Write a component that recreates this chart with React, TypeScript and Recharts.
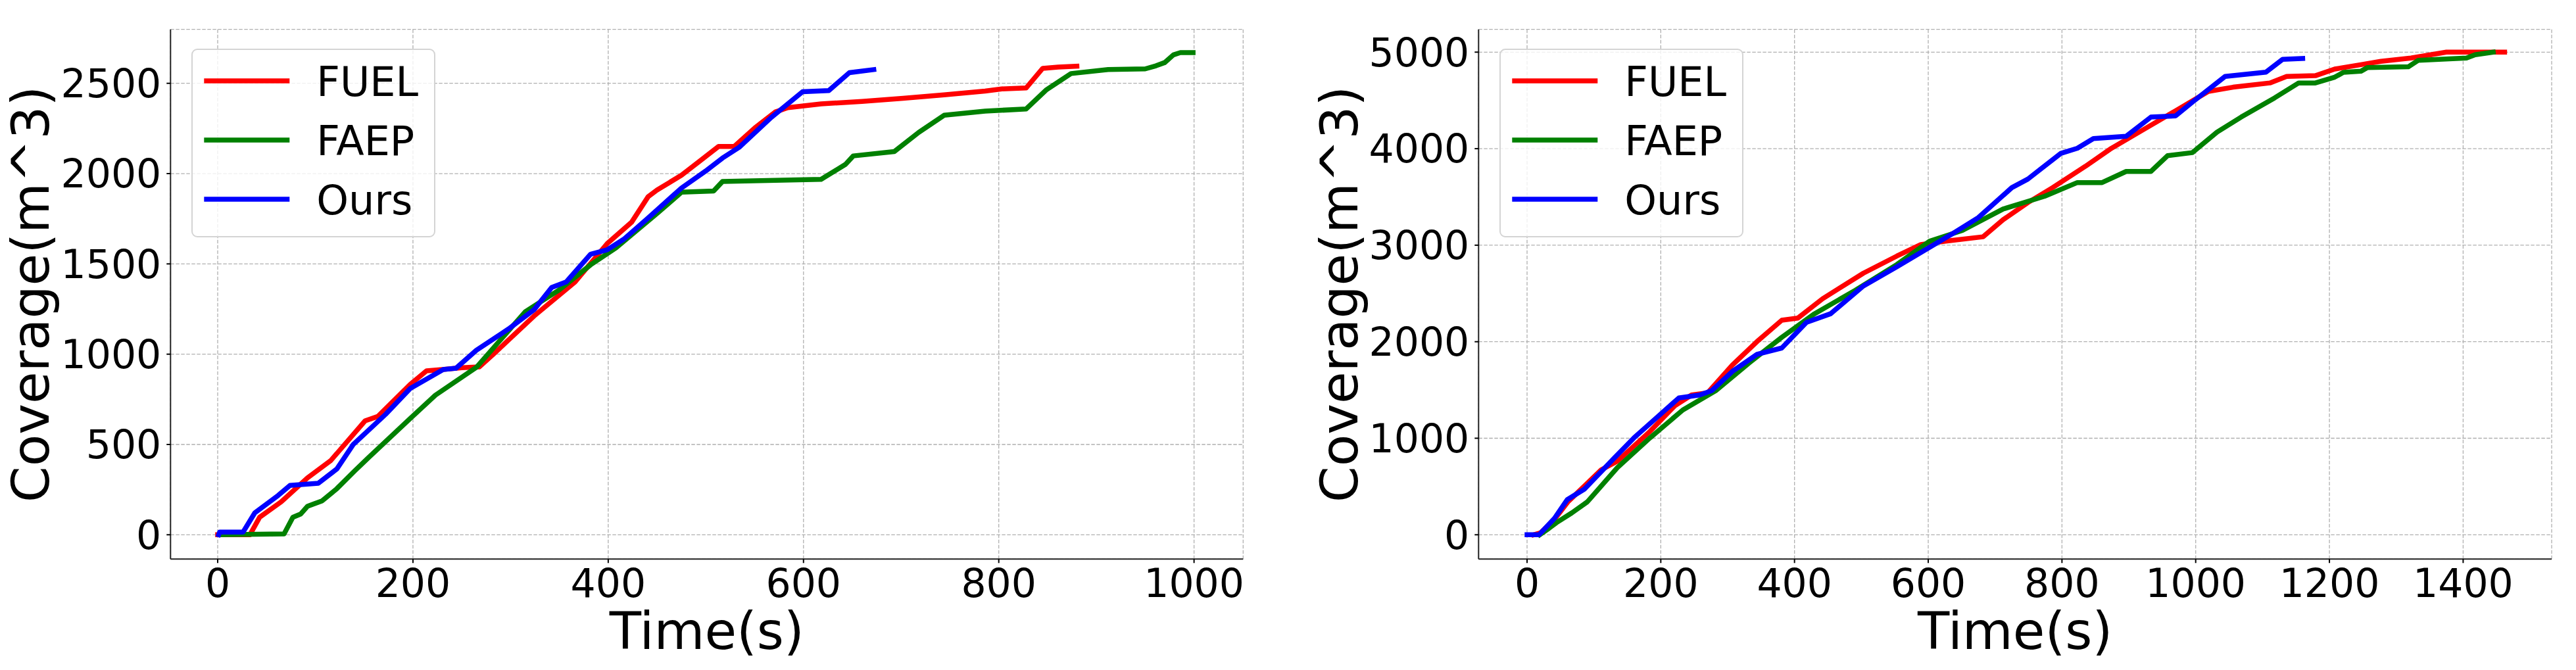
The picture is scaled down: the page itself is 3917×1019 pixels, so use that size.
import { LineChart, Line, XAxis, YAxis, CartesianGrid, Legend } from "recharts";

const FONT = '"DejaVu Sans", sans-serif';

// left panel: (time s, coverage m^3)
const fuelA: [number, number][] = [
  [0, 0], [33, 0], [43, 97], [65, 182], [92, 315], [116, 412], [151, 631], [164, 655],
  [197, 832], [214, 908], [230, 915], [250, 925], [268, 930], [282, 998], [324, 1211],
  [366, 1400], [399, 1613], [424, 1731], [441, 1873], [450, 1909], [475, 1991], [492, 2062],
  [513, 2150], [529, 2150], [550, 2252], [571, 2341], [584, 2365], [618, 2386], [660, 2400],
  [702, 2417], [744, 2436], [786, 2457], [803, 2469], [828, 2474], [845, 2583], [861, 2590],
  [880, 2595],
];
const faepA: [number, number][] = [
  [3, 0], [68, 5], [77, 97], [85, 115], [92, 158], [107, 188], [122, 255], [140, 352],
  [155, 430], [197, 643], [223, 773], [265, 927], [315, 1235], [349, 1353], [382, 1495],
  [408, 1589], [450, 1779], [475, 1897], [508, 1904], [517, 1956], [618, 1968], [643, 2051],
  [651, 2098], [693, 2122], [718, 2228], [744, 2323], [786, 2346], [828, 2358], [849, 2465],
  [874, 2554], [912, 2576], [950, 2580], [961, 2597], [970, 2615], [979, 2658], [986, 2670],
  [999, 2670],
];
const oursA: [number, number][] = [
  [1, 0], [2, 15], [26, 15], [38, 121], [62, 218], [74, 273], [103, 285], [122, 364],
  [139, 501], [172, 667], [197, 809], [231, 915], [244, 922], [265, 1022], [298, 1140],
  [324, 1246], [342, 1369], [357, 1400], [382, 1554], [399, 1578], [416, 1637], [441, 1755],
  [475, 1920], [500, 2015], [517, 2086], [534, 2145], [567, 2311], [599, 2453], [626, 2460],
  [647, 2559], [672, 2576],
];

// right panel
const fuelB: [number, number][] = [
  [10, 0], [20, 20], [40, 150], [61, 340], [111, 673], [135, 762], [184, 1072], [221, 1337],
  [246, 1448], [270, 1470], [307, 1758], [344, 2002], [381, 2223], [405, 2245], [442, 2445],
  [503, 2710], [553, 2887], [589, 3007], [626, 3042], [682, 3087], [712, 3264], [749, 3441],
  [786, 3596], [835, 3817], [872, 3995], [921, 4194], [970, 4393], [1019, 4593], [1056, 4637],
  [1111, 4681], [1136, 4748], [1179, 4756], [1208, 4825], [1247, 4870], [1277, 4905],
  [1322, 4939], [1375, 5000], [1462, 5000],
];
const faepB: [number, number][] = [
  [19, 0], [33, 68], [44, 125], [67, 227], [90, 340], [135, 695], [184, 1005], [233, 1293],
  [282, 1492], [332, 1780], [381, 2046], [430, 2290], [491, 2533], [553, 2799], [602, 3042],
  [651, 3153], [712, 3375], [774, 3507], [823, 3649], [860, 3649], [896, 3764], [933, 3764],
  [958, 3928], [995, 3959], [1032, 4172], [1068, 4327], [1118, 4526], [1154, 4681],
  [1179, 4681], [1208, 4741], [1221, 4791], [1247, 4802], [1257, 4841], [1318, 4848],
  [1333, 4916], [1405, 4939], [1418, 4973], [1445, 5000],
];
const oursB: [number, number][] = [
  [0, 0], [18, 0], [41, 170], [60, 363], [86, 474], [129, 784], [160, 1005], [196, 1227],
  [227, 1417], [258, 1448], [276, 1492], [307, 1692], [344, 1869], [381, 1935], [418, 2201],
  [454, 2290], [503, 2577], [553, 2777], [596, 2954], [639, 3131], [675, 3286], [725, 3596],
  [749, 3685], [798, 3950], [823, 4004], [847, 4105], [896, 4128], [933, 4327], [970, 4340],
  [995, 4482], [1044, 4748], [1105, 4792], [1130, 4925], [1160, 4934],
];

const seriesNames = ["FUEL", "FAEP", "Ours"];
const seriesColors = ["#ff0000", "#008000", "#0000ff"];

const ticksAX = [0, 200, 400, 600, 800, 1000];
const ticksAY = [0, 500, 1000, 1500, 2000, 2500];
const ticksBX = [0, 200, 400, 600, 800, 1000, 1200, 1400];
const ticksBY = [0, 1000, 2000, 3000, 4000, 5000];

const domainAX: [number, number] = [-48.3, 1050.3];
const domainAY: [number, number] = [-134.7, 2798.6];
const domainBX: [number, number] = [-72.5, 1532.4];
const domainBY: [number, number] = [-252, 5235.7];

const toRows = (pts: [number, number][]) => pts.map(([t, v]) => ({ t, v }));

const Y_AXIS_W = 200;
const LINE_W = 7.5;

function LegendBox({ payload }: any) {
  // keep the plotting order, not alphabetical
  const items = [...(payload || [])].sort(
    (a: any, b: any) => seriesNames.indexOf(a.value) - seriesNames.indexOf(b.value)
  );
  return (
    <svg width={371} height={287} style={{ display: "block" }}>
      <rect x={1} y={1} width={369} height={285} rx={8} fill="rgba(255,255,255,0.8)" stroke="#d4d4d4" strokeWidth={2} />
      {items.map((e: any, i: number) => (
        <g key={e.value}>
          <line x1={19.3} x2={149.3} y1={49 + 90 * i} y2={49 + 90 * i} stroke={e.color} strokeWidth={LINE_W} />
          <text x={190.3} y={49 + 90 * i + 22.6} fontSize={62} fontFamily={FONT} fill="#000">
            {e.value}
          </text>
        </g>
      ))}
    </svg>
  );
}

interface PanelProps {
  width: number;
  plotLeft: number;
  plotRight: number;
  titleX: number;
  lines: [number, number][][];
  xTicks: number[];
  yTicks: number[];
  xDomain: [number, number];
  yDomain: [number, number];
}

function Panel({ width, plotLeft, plotRight, titleX, lines, xTicks, yTicks, xDomain, yDomain }: PanelProps) {
  const tickStyle = { fontSize: 60, fill: "#000", fontFamily: FONT };
  return (
    <LineChart
      width={width}
      height={1019}
      margin={{ top: 44.7, right: width - plotRight, bottom: 31.7, left: plotLeft - Y_AXIS_W }}
    >
      <CartesianGrid stroke="#b0b0b0" strokeWidth={1.3} strokeDasharray="5.5 2.5" />
      <XAxis
        dataKey="t"
        type="number"
        domain={xDomain}
        ticks={xTicks}
        allowDataOverflow
        height={137}
        tickSize={6}
        tickMargin={9}
        tick={tickStyle}
        tickLine={{ stroke: "#000", strokeWidth: 2 }}
        axisLine={{ stroke: "#222", strokeWidth: 2 }}
        label={{ value: "Time(s)", position: "insideBottom", offset: 0, fontSize: 79, fill: "#000", fontFamily: FONT }}
      />
      <YAxis
        type="number"
        domain={yDomain}
        ticks={yTicks}
        allowDataOverflow
        width={Y_AXIS_W}
        tickSize={6}
        tickMargin={8}
        tick={tickStyle}
        tickLine={{ stroke: "#000", strokeWidth: 2 }}
        axisLine={{ stroke: "#222", strokeWidth: 2 }}
        label={{
          value: "Coverage(m^3)",
          angle: -90,
          position: "center",
          dx: titleX - (plotLeft - Y_AXIS_W / 2),
          fontSize: 79,
          fill: "#000",
          fontFamily: FONT,
        }}
      />
      {/* top / right frame */}
      <XAxis xAxisId="top" orientation="top" type="number" domain={[0, 1]} height={0} tick={false} tickLine={false} axisLine={{ stroke: "#222", strokeWidth: 2 }} />
      <YAxis yAxisId="right" orientation="right" type="number" domain={[0, 1]} width={0} tick={false} tickLine={false} axisLine={{ stroke: "#222", strokeWidth: 2 }} />
      <Legend
        layout="vertical"
        align="center"
        verticalAlign="middle"
        wrapperStyle={{ left: plotLeft + 31.4, top: 74.3, width: 371, height: 287 }}
        content={<LegendBox />}
      />
      {lines.map((pts, i) => (
        <Line
          key={seriesNames[i]}
          name={seriesNames[i]}
          data={toRows(pts)}
          dataKey="v"
          type="linear"
          stroke={seriesColors[i]}
          strokeWidth={LINE_W}
          strokeLinejoin="round"
          strokeLinecap="square"
          dot={false}
          activeDot={false}
          isAnimationActive={false}
        />
      ))}
    </LineChart>
  );
}

export default function App() {
  return (
    <div style={{ position: "absolute", left: 0, top: 0, width: 3917, height: 1019, background: "#fff", fontFamily: FONT }}>
      <div style={{ position: "absolute", left: 0, top: 0 }}>
        <Panel
          width={1960}
          plotLeft={259.3}
          plotRight={1890.3}
          titleX={46}
          lines={[fuelA, faepA, oursA]}
          xTicks={ticksAX}
          yTicks={ticksAY}
          xDomain={domainAX}
          yDomain={domainAY}
        />
      </div>
      <div style={{ position: "absolute", left: 1960, top: 0 }}>
        <Panel
          width={1957}
          plotLeft={288.3}
          plotRight={1920}
          titleX={76}
          lines={[fuelB, faepB, oursB]}
          xTicks={ticksBX}
          yTicks={ticksBY}
          xDomain={domainBX}
          yDomain={domainBY}
        />
      </div>
    </div>
  );
}
